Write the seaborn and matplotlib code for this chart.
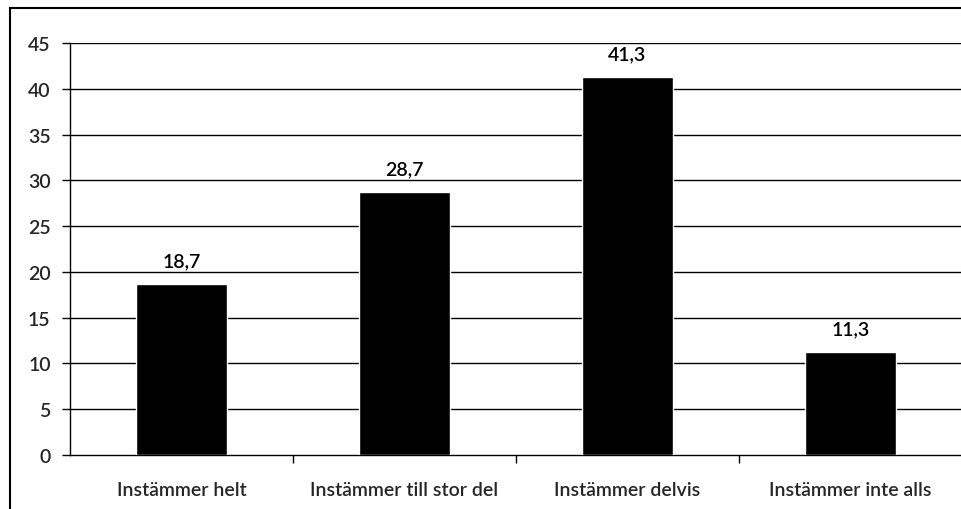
import matplotlib
matplotlib.use("Agg")
import matplotlib.pyplot as plt
import seaborn as sns
import pandas as pd
from matplotlib.patches import Rectangle

categories = ["Instämmer helt", "Instämmer till stor del", "Instämmer delvis", "Instämmer inte alls"]
values = [18.7, 28.7, 41.3, 11.3]
y_ticks = [0, 5, 10, 15, 20, 25, 30, 35, 40, 45]

sns.set_theme(style="white")
plt.rcParams["font.family"] = ["Lato", "DejaVu Sans"]

df = pd.DataFrame({"kategori": categories, "andel": values})

fig = plt.figure(figsize=(9.61, 5.10), dpi=100)
ax = fig.add_axes([70 / 961, 1 - 456 / 510, 892 / 961, (456 - 44) / 510])

sns.barplot(data=df, x="kategori", y="andel", color="black", width=0.41,
            saturation=1, ax=ax, zorder=3)

FS = 14
FW = "semibold"

ax.set_ylim(0, 45)
ax.set_xlim(-0.5, 3.5)
ax.set_yticks(y_ticks)
ax.set_yticklabels([str(t) for t in y_ticks], fontsize=FS, fontweight=FW)
for t in y_ticks[1:]:
    ax.axhline(t, color="black", lw=1.0, zorder=1)

# category labels centred, tick marks between categories
ax.set_xticks(range(len(categories)))
ax.set_xticklabels(categories, fontsize=FS, fontweight=FW)
ax.tick_params(axis="x", length=0, pad=19)
ax.set_xticks([0.5, 1.5, 2.5], minor=True)
ax.tick_params(axis="x", which="minor", length=6, width=1, color="black", direction="out")
ax.tick_params(axis="y", length=6, width=1, color="black", direction="out", pad=8)
ax.yaxis.set_ticks_position("left")
ax.xaxis.set_ticks_position("bottom")

for side in ["top", "right"]:
    ax.spines[side].set_visible(False)
for side in ["left", "bottom"]:
    ax.spines[side].set_color("black")
    ax.spines[side].set_linewidth(1.0)

ax.set_xlabel("")
ax.set_ylabel("")

for i, v in enumerate(values):
    ax.text(i, v + 1.6, f"{v:.1f}".replace(".", ","), ha="center", va="bottom",
            fontsize=FS, fontweight=FW, color="black")

# outer frame of the chart
fig.patches.append(Rectangle((10 / 961, -0.1), 1.2, 1 - 9 / 510 + 0.1,
                             transform=fig.transFigure, fill=False,
                             edgecolor="black", lw=1.5))

fig.savefig("out.png", dpi=100)
